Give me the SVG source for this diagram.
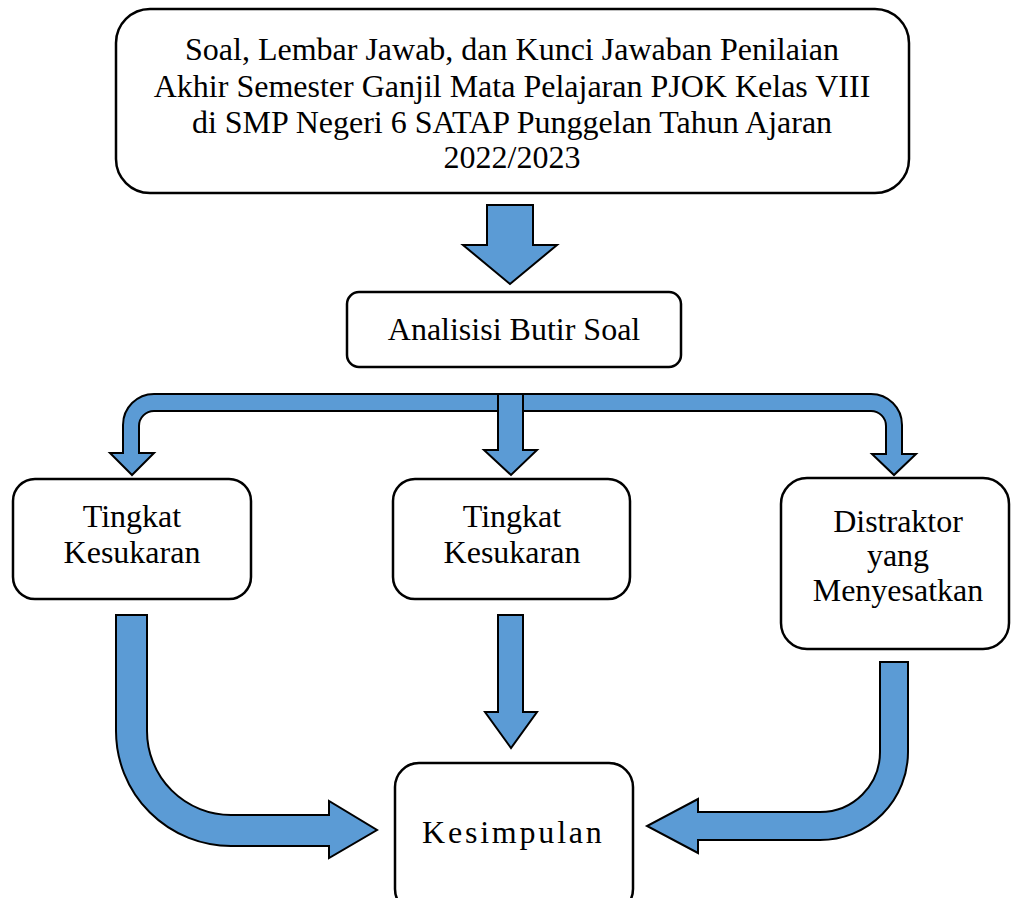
<svg xmlns="http://www.w3.org/2000/svg" width="1011" height="898" viewBox="0 0 1011 898">
<style>
.box{fill:#fff;stroke:#000;stroke-width:2.5}
.arr{fill:#5B9BD5;stroke:#000;stroke-width:2;stroke-linejoin:miter}
text{font-family:"Liberation Serif","Times New Roman",serif;font-size:32px;fill:#000;text-anchor:middle}
</style>
<rect width="1011" height="898" fill="#fff"/>
<g id="connectors">
<path class="arr" d="M487 205 L533 205 L533 245 L557 245 L510 284 L463 245 L487 245 Z"/>
<path class="arr" d="M132 475 L110 453 L123 453 L123 425 A31 31 0 0 1 154 394 L871 394 A31 31 0 0 1 902 425 L902 454 L916 454 L894 475 L872 454 L886 454 L886 426 A15 15 0 0 0 871 411 L154 411 A15 15 0 0 0 139 426 L139 453 L154 453 Z"/>
<path class="arr" d="M498 394 L523 394 L523 450 L537 450 L511 475 L484 450 L498 450 Z"/>
<path class="arr" d="M498 615 L523 615 L523 712 L537 712 L511 748 L485 712 L498 712 Z"/>
<path class="arr" d="M116 615 L147 615 L147 731 A84 84 0 0 0 231 815 L329 815 L329 801 L377 830 L329 858 L329 846 L231 846 A115 115 0 0 1 116 731 Z"/>
<path class="arr" d="M880 662 L908 662 L908 752 A88 88 0 0 1 820 840 L698 840 L698 853 L647 826 L698 799 L698 812 L820 812 A60 60 0 0 0 880 752 Z"/>
</g>
<g id="node-source">
<rect class="box" x="116" y="9" width="793" height="184" rx="34"/>
<text x="512" y="60">Soal, Lembar Jawab, dan Kunci Jawaban Penilaian</text>
<text x="512" y="97">Akhir Semester Ganjil Mata Pelajaran PJOK Kelas VIII</text>
<text x="512" y="133">di SMP Negeri 6 SATAP Punggelan Tahun Ajaran</text>
<text x="512" y="168">2022/2023</text>
</g>
<g id="node-analisis">
<rect class="box" x="347" y="292" width="334" height="75" rx="12"/>
<text x="514" y="340">Analisisi Butir Soal</text>
</g>
<g id="node-tingkat1">
<rect class="box" x="13" y="479" width="238" height="120" rx="22"/>
<text x="132" y="527">Tingkat</text>
<text x="132" y="563">Kesukaran</text>
</g>
<g id="node-tingkat2">
<rect class="box" x="393" y="479" width="237" height="120" rx="22"/>
<text x="512" y="527">Tingkat</text>
<text x="512" y="563">Kesukaran</text>
</g>
<g id="node-distraktor">
<rect class="box" x="781" y="478" width="228" height="171" rx="26"/>
<text x="898" y="532">Distraktor</text>
<text x="898" y="566">yang</text>
<text x="898" y="601">Menyesatkan</text>
</g>
<g id="node-kesimpulan">
<rect class="box" x="395" y="763" width="238" height="150" rx="24"/>
<text x="422" y="843" style="text-anchor:start;letter-spacing:2.8px">Kesimpulan</text>
</g>
</svg>
